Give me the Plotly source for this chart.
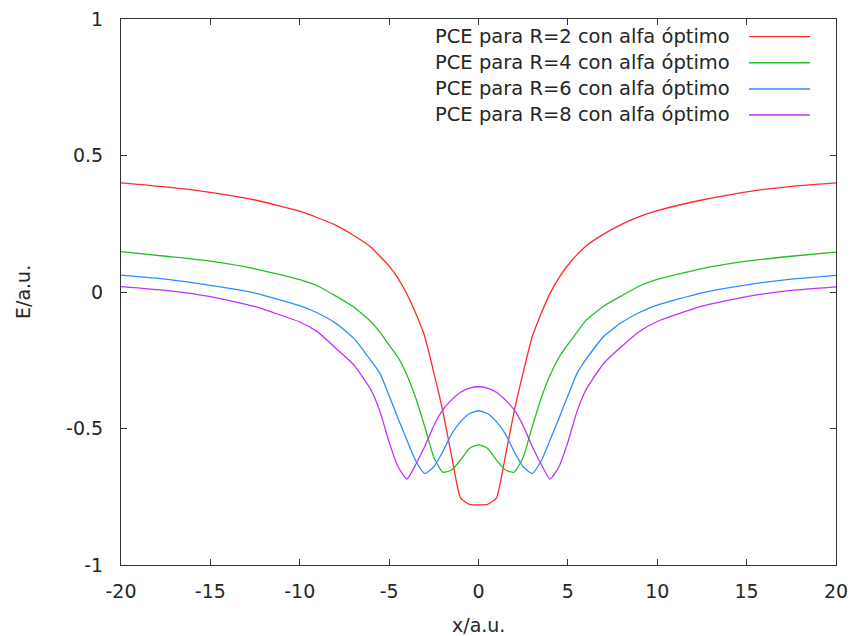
import plotly.graph_objects as go

# Positions along x (a.u.)
x = [-20, -17.5, -15, -12.5, -10, -9, -8, -7, -6, -5.5, -5, -4.5, -4, -3.5, -3, -2.5,
     -2, -1.5, -1, -0.5, 0, 0.5, 1, 1.5, 2, 2.5, 3, 3.5, 4, 4.5, 5, 5.5, 6, 7, 8, 9,
     10, 12.5, 15, 17.5, 20]

# Energy curves E(x) for each R with optimal alpha
e_r2 = [0.400, 0.385, 0.365, 0.337, 0.296, 0.272, 0.245, 0.208, 0.163, 0.130, 0.095,
        0.050, -0.008, -0.080, -0.165, -0.295, -0.435, -0.603, -0.755, -0.778, -0.780,
        -0.778, -0.755, -0.603, -0.435, -0.295, -0.165, -0.080, -0.005, 0.052, 0.098,
        0.136, 0.168, 0.212, 0.248, 0.276, 0.298, 0.337, 0.367, 0.387, 0.400]
e_r4 = [0.148, 0.131, 0.113, 0.085, 0.045, 0.022, -0.014, -0.054, -0.110, -0.148,
        -0.195, -0.240, -0.305, -0.390, -0.495, -0.605, -0.660, -0.652, -0.615, -0.572,
        -0.560, -0.572, -0.615, -0.652, -0.660, -0.605, -0.495, -0.390, -0.305, -0.240,
        -0.192, -0.148, -0.105, -0.052, -0.014, 0.022, 0.046, 0.086, 0.113, 0.131, 0.146]
e_r6 = [0.062, 0.047, 0.024, -0.004, -0.050, -0.077, -0.114, -0.168, -0.253, -0.300,
        -0.380, -0.463, -0.543, -0.620, -0.665, -0.640, -0.585, -0.520, -0.475, -0.445,
        -0.435, -0.445, -0.475, -0.520, -0.585, -0.640, -0.665, -0.620, -0.543, -0.463,
        -0.380, -0.300, -0.248, -0.163, -0.112, -0.075, -0.048, -0.003, 0.026, 0.047, 0.061]
e_r8 = [0.020, 0.006, -0.017, -0.054, -0.110, -0.146, -0.205, -0.265, -0.360, -0.440,
        -0.550, -0.640, -0.685, -0.630, -0.565, -0.490, -0.432, -0.395, -0.367, -0.352,
        -0.347, -0.352, -0.367, -0.395, -0.432, -0.490, -0.565, -0.630, -0.685, -0.640,
        -0.550, -0.440, -0.360, -0.262, -0.200, -0.145, -0.108, -0.052, -0.017, 0.006, 0.019]

names = ["PCE para R=2 con alfa óptimo", "PCE para R=4 con alfa óptimo",
         "PCE para R=6 con alfa óptimo", "PCE para R=8 con alfa óptimo"]
colors = ["#ff2a2a", "#22c022", "#2a8cff", "#c030ff"]
series = [e_r2, e_r4, e_r6, e_r8]

x_ticks = [-20, -15, -10, -5, 0, 5, 10, 15, 20]
y_ticks = [-1, -0.5, 0, 0.5, 1]
y_tick_text = ["-1", "-0.5", "0", "0.5", "1"]

FONT = "DejaVu Sans"
TXT = "#262626"

fig = go.Figure()
for name, col, ys in zip(names, colors, series):
    fig.add_trace(go.Scatter(x=x, y=ys, mode="lines", name=name,
                             line=dict(color=col, width=1.3, shape="spline", smoothing=0.5),
                             showlegend=False))

# Key in the top-right corner: text on the left, line sample on the right
key_y = [0.9676, 0.9199, 0.8718, 0.8242]
for name, col, ky in zip(names, colors, key_y):
    fig.add_annotation(x=0.8545, y=ky, xref="paper", yref="paper", text=name,
                       showarrow=False, xanchor="right", yanchor="middle",
                       font=dict(family=FONT, size=19.5, color=TXT))
    fig.add_shape(type="line", xref="paper", yref="paper", x0=0.8783, x1=0.9636,
                  y0=ky, y1=ky, line=dict(color=col, width=1.3))

# Axis titles
fig.add_annotation(x=0.5, y=0, xref="paper", yref="paper", text="x/a.u.",
                   showarrow=False, xanchor="center", yanchor="middle", yshift=-60,
                   font=dict(family=FONT, size=19, color=TXT))
fig.add_annotation(x=0, y=0.5, xref="paper", yref="paper", text="E/a.u.",
                   showarrow=False, xanchor="center", yanchor="middle", xshift=-98,
                   textangle=-90, font=dict(family=FONT, size=19, color=TXT))

axis_common = dict(showgrid=False, zeroline=False, showline=True, mirror="ticks",
                   linecolor="#333333", linewidth=1, ticks="inside", ticklen=6,
                   tickcolor="#333333", tickwidth=1, automargin=False,
                   tickfont=dict(family=FONT, size=19, color=TXT))

fig.update_xaxes(range=[-20, 20], tickvals=x_ticks, ticktext=[str(v) for v in x_ticks],
                 ticklabelstandoff=9, **axis_common)
fig.update_yaxes(range=[-1, 1], tickvals=y_ticks, ticktext=y_tick_text,
                 ticklabelstandoff=13, **axis_common)

fig.update_layout(width=851, height=636, margin=dict(l=121, r=15, t=19, b=71),
                  plot_bgcolor="white", paper_bgcolor="white",
                  font=dict(family=FONT, size=19, color=TXT))

fig.write_html("out.html")
